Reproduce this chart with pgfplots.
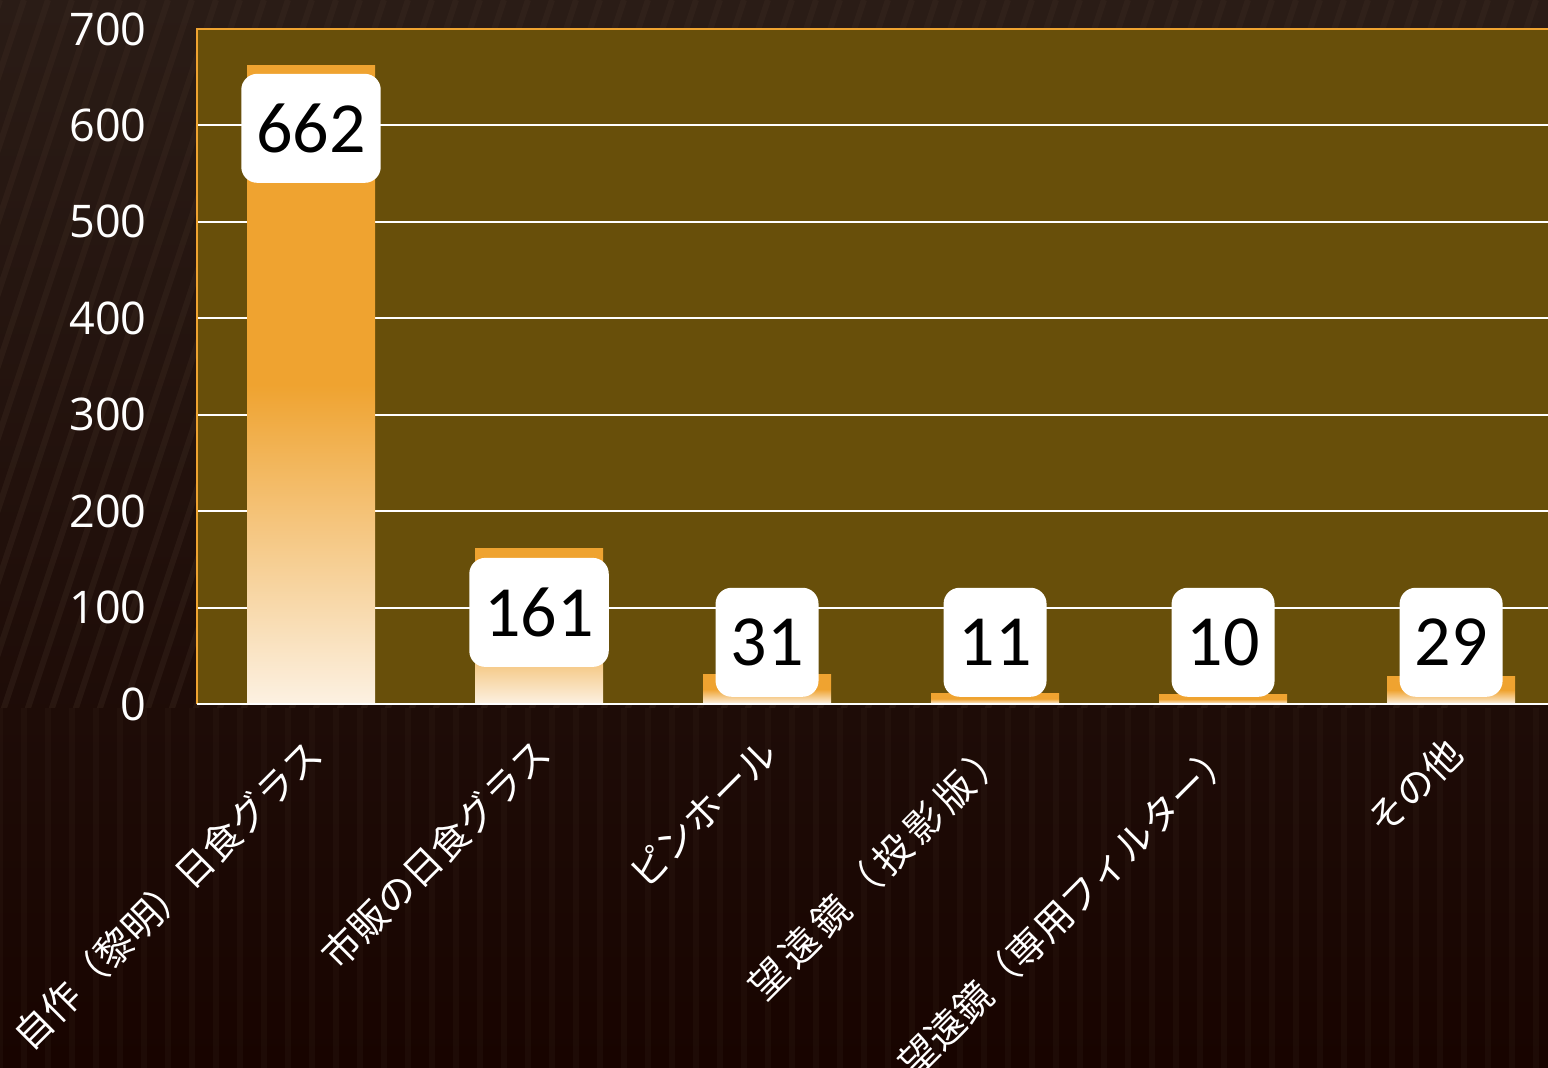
\documentclass[border=0pt]{standalone}
\usepackage{pgfplots}
\pgfplotsset{compat=1.18}
\usepackage{fontspec}
\setmainfont{Open Sans}
\newfontfamily\cjk{Noto Sans CJK JP}
\newfontfamily\calib{Carlito}
\definecolor{plotbg}{RGB}{104,79,10}
\definecolor{barorange}{RGB}{239,163,48}
\definecolor{barcream}{RGB}{252,241,226}
\definecolor{bgtop}{RGB}{42,28,22}
\definecolor{bgbot}{RGB}{24,4,0}
\definecolor{stripe}{RGB}{62,44,34}
\newcommand{\gs}{\hspace{3pt}}
\begin{document}
\begin{tikzpicture}
\useasboundingbox (0,0) rectangle (774pt,534pt);
\shade[top color=bgtop, bottom color=bgbot] (0,0) rectangle (774pt,534pt);
\begin{scope}
\clip (0,180pt) rectangle (774pt,534pt);
\foreach \i in {-10,...,70} {
  \draw[stripe, line width=3pt, opacity=0.35] (\i*12pt,534pt) -- ++(-120pt,-360pt);
}
\end{scope}
\begin{scope}
\clip (0,0) rectangle (774pt,180pt);
\foreach \i in {0,...,64} {
  \draw[stripe, line width=3pt, opacity=0.18] (\i*12pt,180pt) -- ++(0pt,-180pt);
}
\end{scope}
\begin{axis}[
  at={(98.5pt,182pt)}, anchor=south west,
  scale only axis, width=675.5pt, height=337.5pt,
  xmin=-0.5, xmax=5.425, ymin=0, ymax=700,
  axis background/.style={fill=plotbg},
  axis line style={draw=none},
  ytick={0,100,...,700},
  xtick={0,...,5},
  major tick length=0pt,
  ymajorgrids, grid style={white, line width=1pt},
  /pgf/number format/assume math mode=true,
  yticklabel style={text=white, font=\fontsize{22.5}{22.5}\selectfont, inner sep=0pt, xshift=-25pt, anchor=east},
  xticklabels={
    {自作（黎明）日食グラス},
    {市販の日食グラス},
    {ピンホール},
    {望\gs 遠\gs 鏡\gs （\gs 投\gs 影\gs 版\gs ）},
    {望遠鏡（専用フィルター）},
    {その他}},
  xticklabel style={text=white, font=\cjk\fontsize{19}{19}\selectfont, rotate=45, anchor=north east, inner sep=0pt, xshift=-13.5pt, yshift=-7.6pt},
  clip=false,
  barstyle/.style={ybar, bar width=64pt, draw=none, top color=barorange, bottom color=barcream, middle color=barorange},
]
\addplot[barstyle] coordinates {(0,662)};
\addplot[barstyle] coordinates {(1,161)};
\addplot[barstyle] coordinates {(2,31)};
\addplot[barstyle] coordinates {(3,11)};
\addplot[barstyle] coordinates {(4,10)};
\addplot[barstyle] coordinates {(5,29)};
\draw[barorange, line width=1pt] (axis cs:-0.5,0) -- (axis cs:-0.5,700) -- (axis cs:5.425,700);
\draw[white, line width=1pt] (axis cs:-0.5,0) -- (axis cs:5.425,0);
\addplot[draw=none, mark=none, nodes near coords, point meta=explicit symbolic,
  every node near coord/.append style={anchor=center, fill=white, rounded corners=8pt, text=black,
    font=\calib\fontsize{36}{36}\selectfont, inner xsep=7.5pt, minimum height=54.5pt}]
  coordinates {(0,597)[662] (1,95)[161] (2,64)[31] (3,64)[11] (4,64)[10] (5,64)[29]};
\end{axis}
\end{tikzpicture}
\end{document}
